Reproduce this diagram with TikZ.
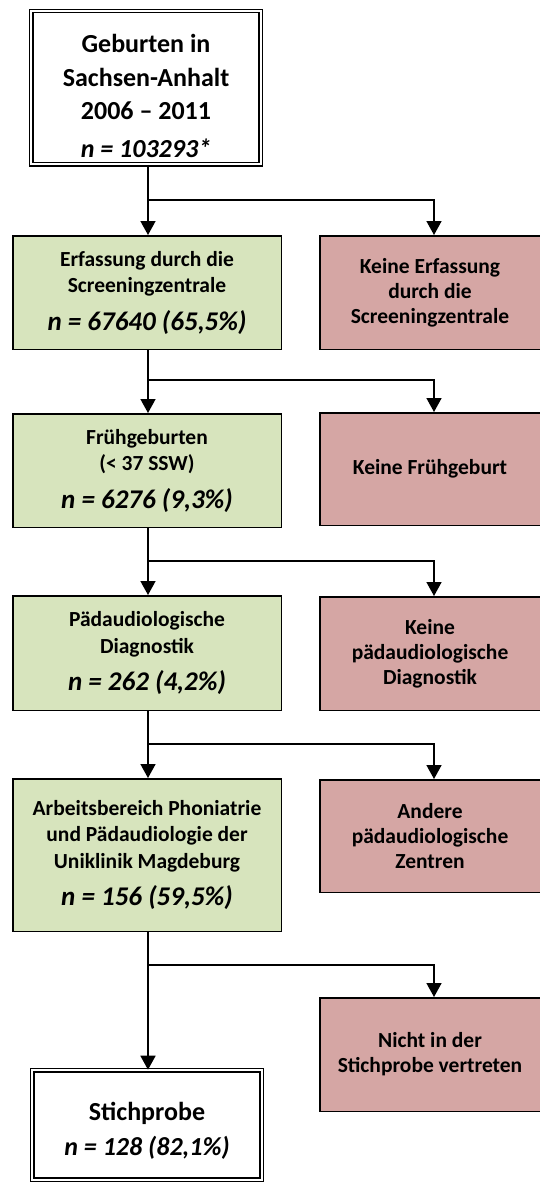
\documentclass[tikz,border=0pt]{standalone}
\usepackage{fontspec}
\setmainfont{Carlito}
\usetikzlibrary{arrows.meta}
\definecolor{boxgreen}{HTML}{D7E4BD}
\definecolor{boxred}{HTML}{D5A6A4}
\newcommand{\nline}[1]{{\fontsize{27}{31}\selectfont\itshape #1}}
\begin{document}
\begin{tikzpicture}[x=1pt,y=-1pt,
  base/.style={draw=black, align=center, inner sep=0pt, text=black},
  gbox/.style={base, line width=1.5pt, fill=boxgreen, minimum width=268.5pt,
     font=\fontsize{21.5}{26.5}\selectfont\bfseries},
  rbox/.style={base, line width=1.5pt, fill=boxred, minimum width=220.5pt,
     font=\fontsize{21.5}{25}\selectfont\bfseries},
  dbox/.style={base, line width=1.2pt, double=white, double distance=2.2pt, fill=white,
     minimum width=229.4pt, font=\fontsize{26}{33.5}\selectfont\bfseries},
  conn/.style={line width=1.6pt, draw=black},
  arr/.style={conn, -{Triangle[width=15pt,length=14pt]}}
]
\useasboundingbox (0,0) rectangle (540,1183);

\node[dbox, minimum height=153.4pt] (top) at (146,87.5)
  {\rule{0pt}{35pt}Geburten in\\Sachsen-Anhalt\\2006 -- 2011\\[4pt]\itshape n = 103293*};

\node[gbox, minimum height=113.5pt] (g1) at (147,292.5)
  {Erfassung durch die\\Screeningzentrale\\[11pt]\nline{n = 67640 (65,5\%)}};
\node[rbox, minimum height=113.5pt] (r1) at (430,292.5)
  {Keine Erfassung\\durch die\\Screeningzentrale};

\node[gbox, minimum height=113.5pt] (g2) at (147,470.5)
  {Frühgeburten\\(< 37 SSW)\\[11pt]\nline{n = 6276 (9,3\%)}};
\node[rbox, minimum height=112.5pt] (r2) at (430,469)
  {Keine Frühgeburt};

\node[gbox, minimum height=114.5pt] (g3) at (147,653)
  {Pädaudiologische\\Diagnostik\\[11pt]\nline{n = 262 (4,2\%)}};
\node[rbox, minimum height=113.5pt] (r3) at (430,653.5)
  {Keine\\pädaudiologische\\Diagnostik};

\node[gbox, minimum height=152.5pt] (g4) at (147,855)
  {Arbeitsbereich Phoniatrie\\und Pädaudiologie der\\Uniklinik Magdeburg\\[11pt]\nline{n = 156 (59,5\%)}};
\node[rbox, minimum height=112.5pt] (r4) at (430,836)
  {Andere\\pädaudiologische\\Zentren};

\node[rbox, minimum height=113.5pt] (r5) at (430,1054.5)
  {Nicht in der\\Stichprobe vertreten};

\node[dbox, minimum height=109.4pt] (st) at (147,1125)
  {\rule{0pt}{30pt}Stichprobe\\[2pt]\itshape n = 128 (82,1\%)};

% branch points
\coordinate (s1) at (148,200);  \coordinate (b1) at (434,200);
\coordinate (s2) at (148,380);  \coordinate (b2) at (434,380);
\coordinate (s3) at (148,561);  \coordinate (b3) at (434,561);
\coordinate (s4) at (148,744);  \coordinate (b4) at (434,744);
\coordinate (s5) at (148,965);  \coordinate (b5) at (434,965);

\draw[conn] (top.south -| s1) -- (s1);
\draw[arr] (s1) -- (g1.north -| s1);
\draw[arr] (s1) -- (b1) -- (r1.north -| b1);

\draw[conn] (g1.south -| s2) -- (s2);
\draw[arr] (s2) -- (g2.north -| s2);
\draw[arr] (s2) -- (b2) -- (r2.north -| b2);

\draw[conn] (g2.south -| s3) -- (s3);
\draw[arr] (s3) -- (g3.north -| s3);
\draw[arr] (s3) -- (b3) -- (r3.north -| b3);

\draw[conn] (g3.south -| s4) -- (s4);
\draw[arr] (s4) -- (g4.north -| s4);
\draw[arr] (s4) -- (b4) -- (r4.north -| b4);

\draw[conn] (g4.south -| s5) -- (s5);
\draw[arr] (s5) -- (st.north -| s5);
\draw[arr] (s5) -- (b5) -- (r5.north -| b5);
\end{tikzpicture}
\end{document}
